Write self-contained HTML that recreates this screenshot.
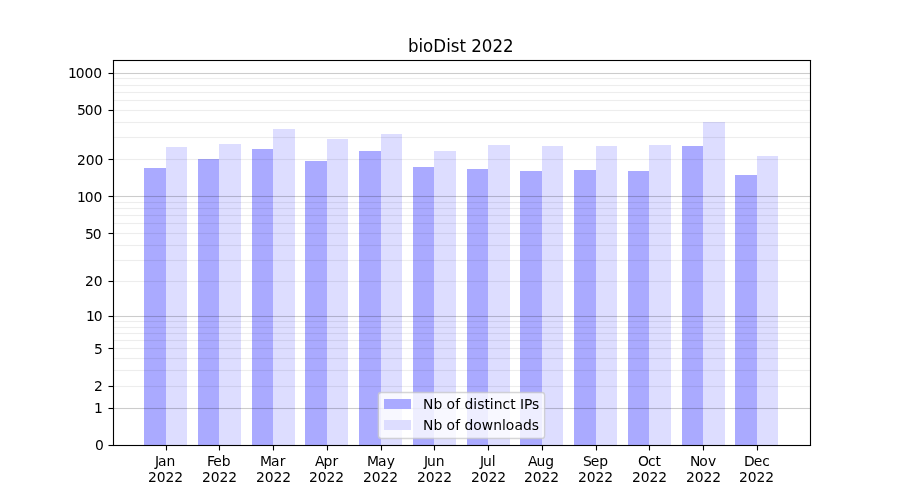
<!DOCTYPE html>
<html><head><meta charset="utf-8"><title>bioDist 2022</title>
<style>html,body{margin:0;padding:0;background:#fff;width:900px;height:500px;overflow:hidden}svg{display:block;will-change:transform}text{font-family:"DejaVu Sans","Liberation Sans",sans-serif;fill:#000}</style>
</head><body>
<svg width="900" height="500" viewBox="0 0 900 500">
<rect x="0" y="0" width="900" height="500" fill="#ffffff"/>
<g shape-rendering="crispEdges">
<rect x="144" y="168" width="22" height="277" fill="#aaaaff"/>
<rect x="166" y="147" width="21" height="298" fill="#ddddff"/>
<rect x="198" y="159" width="21" height="286" fill="#aaaaff"/>
<rect x="219" y="144" width="22" height="301" fill="#ddddff"/>
<rect x="252" y="149" width="21" height="296" fill="#aaaaff"/>
<rect x="273" y="129" width="22" height="316" fill="#ddddff"/>
<rect x="305" y="161" width="22" height="284" fill="#aaaaff"/>
<rect x="327" y="139" width="21" height="306" fill="#ddddff"/>
<rect x="359" y="151" width="22" height="294" fill="#aaaaff"/>
<rect x="381" y="134" width="21" height="311" fill="#ddddff"/>
<rect x="413" y="167" width="21" height="278" fill="#aaaaff"/>
<rect x="434" y="151" width="22" height="294" fill="#ddddff"/>
<rect x="467" y="169" width="21" height="276" fill="#aaaaff"/>
<rect x="488" y="145" width="22" height="300" fill="#ddddff"/>
<rect x="520" y="171" width="22" height="274" fill="#aaaaff"/>
<rect x="542" y="146" width="21" height="299" fill="#ddddff"/>
<rect x="574" y="170" width="22" height="275" fill="#aaaaff"/>
<rect x="596" y="146" width="21" height="299" fill="#ddddff"/>
<rect x="628" y="171" width="21" height="274" fill="#aaaaff"/>
<rect x="649" y="145" width="22" height="300" fill="#ddddff"/>
<rect x="682" y="146" width="21" height="299" fill="#aaaaff"/>
<rect x="703" y="122" width="22" height="323" fill="#ddddff"/>
<rect x="735" y="175" width="22" height="270" fill="#aaaaff"/>
<rect x="757" y="156" width="21" height="289" fill="#ddddff"/>
</g>
<g fill="#000">
<rect x="112.9444" y="407.9444" width="698.1111" height="1.1111" fill-opacity="0.2"/>
<rect x="112.9444" y="385.9444" width="698.1111" height="1.1111" fill-opacity="0.07"/>
<rect x="112.9444" y="369.9444" width="698.1111" height="1.1111" fill-opacity="0.07"/>
<rect x="112.9444" y="357.9444" width="698.1111" height="1.1111" fill-opacity="0.07"/>
<rect x="112.9444" y="347.9444" width="698.1111" height="1.1111" fill-opacity="0.07"/>
<rect x="112.9444" y="339.9444" width="698.1111" height="1.1111" fill-opacity="0.07"/>
<rect x="112.9444" y="332.9444" width="698.1111" height="1.1111" fill-opacity="0.07"/>
<rect x="112.9444" y="326.9444" width="698.1111" height="1.1111" fill-opacity="0.07"/>
<rect x="112.9444" y="320.9444" width="698.1111" height="1.1111" fill-opacity="0.07"/>
<rect x="112.9444" y="315.9444" width="698.1111" height="1.1111" fill-opacity="0.2"/>
<rect x="112.9444" y="280.9444" width="698.1111" height="1.1111" fill-opacity="0.07"/>
<rect x="112.9444" y="259.9444" width="698.1111" height="1.1111" fill-opacity="0.07"/>
<rect x="112.9444" y="244.9444" width="698.1111" height="1.1111" fill-opacity="0.07"/>
<rect x="112.9444" y="232.9444" width="698.1111" height="1.1111" fill-opacity="0.07"/>
<rect x="112.9444" y="222.9444" width="698.1111" height="1.1111" fill-opacity="0.07"/>
<rect x="112.9444" y="214.9444" width="698.1111" height="1.1111" fill-opacity="0.07"/>
<rect x="112.9444" y="207.9444" width="698.1111" height="1.1111" fill-opacity="0.07"/>
<rect x="112.9444" y="201.9444" width="698.1111" height="1.1111" fill-opacity="0.07"/>
<rect x="112.9444" y="195.9444" width="698.1111" height="1.1111" fill-opacity="0.2"/>
<rect x="112.9444" y="158.9444" width="698.1111" height="1.1111" fill-opacity="0.07"/>
<rect x="112.9444" y="136.9444" width="698.1111" height="1.1111" fill-opacity="0.07"/>
<rect x="112.9444" y="121.9444" width="698.1111" height="1.1111" fill-opacity="0.07"/>
<rect x="112.9444" y="109.9444" width="698.1111" height="1.1111" fill-opacity="0.07"/>
<rect x="112.9444" y="99.9444" width="698.1111" height="1.1111" fill-opacity="0.07"/>
<rect x="112.9444" y="91.9444" width="698.1111" height="1.1111" fill-opacity="0.07"/>
<rect x="112.9444" y="84.9444" width="698.1111" height="1.1111" fill-opacity="0.07"/>
<rect x="112.9444" y="77.9444" width="698.1111" height="1.1111" fill-opacity="0.07"/>
<rect x="112.9444" y="72.9444" width="698.1111" height="1.1111" fill-opacity="0.2"/>
</g>
<g stroke="#000" stroke-width="1.1111" stroke-linecap="square" fill="none">
<line x1="113.5" y1="445.5" x2="113.5" y2="60.5"/>
<line x1="810.5" y1="445.5" x2="810.5" y2="60.5"/>
</g>
<g fill="#000">
<rect x="112.9444" y="59.9444" width="698.1111" height="1.1111"/>
<rect x="112.9444" y="444.9444" width="698.1111" height="1.1111"/>
</g>
<g stroke="#000" stroke-width="1.1111" stroke-linecap="butt" fill="none">
<rect x="108.5" y="444.9444" width="5" height="1.1111" fill="#000" stroke="none"/>
<rect x="108.5" y="407.9444" width="5" height="1.1111" fill="#000" stroke="none"/>
<rect x="108.5" y="385.9444" width="5" height="1.1111" fill="#000" stroke="none"/>
<rect x="108.5" y="347.9444" width="5" height="1.1111" fill="#000" stroke="none"/>
<rect x="108.5" y="315.9444" width="5" height="1.1111" fill="#000" stroke="none"/>
<rect x="108.5" y="280.9444" width="5" height="1.1111" fill="#000" stroke="none"/>
<rect x="108.5" y="232.9444" width="5" height="1.1111" fill="#000" stroke="none"/>
<rect x="108.5" y="195.9444" width="5" height="1.1111" fill="#000" stroke="none"/>
<rect x="108.5" y="158.9444" width="5" height="1.1111" fill="#000" stroke="none"/>
<rect x="108.5" y="109.9444" width="5" height="1.1111" fill="#000" stroke="none"/>
<rect x="108.5" y="72.9444" width="5" height="1.1111" fill="#000" stroke="none"/>
<line x1="166.5" y1="445.5" x2="166.5" y2="450.5"/>
<line x1="219.5" y1="445.5" x2="219.5" y2="450.5"/>
<line x1="273.5" y1="445.5" x2="273.5" y2="450.5"/>
<line x1="327.5" y1="445.5" x2="327.5" y2="450.5"/>
<line x1="381.5" y1="445.5" x2="381.5" y2="450.5"/>
<line x1="434.5" y1="445.5" x2="434.5" y2="450.5"/>
<line x1="488.5" y1="445.5" x2="488.5" y2="450.5"/>
<line x1="542.5" y1="445.5" x2="542.5" y2="450.5"/>
<line x1="596.5" y1="445.5" x2="596.5" y2="450.5"/>
<line x1="649.5" y1="445.5" x2="649.5" y2="450.5"/>
<line x1="703.5" y1="445.5" x2="703.5" y2="450.5"/>
<line x1="757.5" y1="445.5" x2="757.5" y2="450.5"/>
</g>
<g class="t" font-size="13.8889px">
<text x="94.95" y="450">0</text>
<text x="93.95" y="413">1</text>
<text x="93.95" y="391">2</text>
<text x="93.95" y="354">5</text>
<text x="85.997 93.809" y="321">10</text>
<text x="84.997 93.809" y="286">20</text>
<text x="84.997 92.809" y="239">50</text>
<text x="76.919 84.731 93.559" y="202">100</text>
<text x="76.919 85.731 94.559" y="165">200</text>
<text x="76.919 84.731 93.559" y="115">500</text>
<text x="67.965 75.778 84.606 93.184" y="78">1000</text>
<text x="154.994 158.072 166.588" y="466">Jan</text>
<text x="147.901 156.714 165.542 174.37" y="482">2022</text>
<text x="206.892 213.236 221.767" y="466">Feb</text>
<text x="201.887 210.699 219.528 228.356" y="482">2022</text>
<text x="259.945 271.039 279.664" y="466">Mar</text>
<text x="256.124 264.686 273.515 282.343" y="482">2022</text>
<text x="314.895 323.379 332.442" y="466">Apr</text>
<text x="309.11 317.672 326.501 335.329" y="482">2022</text>
<text x="366.913 377.882 386.632" y="466">May</text>
<text x="363.097 371.659 380.488 389.316" y="482">2022</text>
<text x="423.906 426.984 435.781" y="466">Jun</text>
<text x="417.083 425.646 434.474 443.302" y="482">2022</text>
<text x="479.989 483.067 491.864" y="466">Jul</text>
<text x="471.07 479.633 488.461 497.289" y="482">2022</text>
<text x="527.92 536.404 545.201" y="466">Aug</text>
<text x="523.931 532.744 541.572 550.15" y="482">2022</text>
<text x="582.876 590.673 599.22" y="466">Sep</text>
<text x="577.918 586.731 595.559 604.137" y="482">2022</text>
<text x="637.945 648.101 655.492" y="466">Oct</text>
<text x="631.904 640.716 649.545 658.373" y="482">2022</text>
<text x="689.885 699.26 707.994" y="466">Nov</text>
<text x="685.891 694.703 703.532 712.36" y="482">2022</text>
<text x="743.987 753.659 762.206" y="466">Dec</text>
<text x="738.877 747.69 756.518 765.346" y="482">2022</text>
</g>
<g class="t"><text x="407.897 418.451 423.090 433.269 446.340 450.714 459.391 465.922 471.207 481.806 492.390 502.989" y="52" font-size="16.6667px" transform="translate(0 52) scale(1 1.07) translate(0 -52)">bioDist 2022</text></g>
<path d="M 380.903 438.056 L 541.597 438.056 Q 544.375 438.056 544.375 435.278 L 544.375 394.778 Q 544.375 392 541.597 392 L 380.903 392 Q 378.125 392 378.125 394.778 L 378.125 435.278 Q 378.125 438.056 380.903 438.056 Z" transform="translate(0.25 0.5)" fill="#ffffff" stroke="#cccccc" stroke-width="1.3889" opacity="0.8"/>
<g shape-rendering="crispEdges">
<rect x="384" y="399" width="27" height="10" fill="#aaaaff"/>
<rect x="384" y="420" width="27" height="10" fill="#ddddff"/>
</g>
<g class="t" font-size="13.8889px">
<text x="423.12 433.495 442.292 446.464 455.198 460.089 464.495 473.307 477.151 484.386 489.823 493.682 502.479 510.354 515.542 519.948 524.042 531.917" y="409">Nb of distinct IPs</text>
<text x="423.12 433.495 442.292 446.464 455.198 460.089 464.495 473.307 481.792 493.136 501.932 505.792 514.526 523.026 531.839" y="430">Nb of downloads</text>
</g>
</svg>
</body></html>
